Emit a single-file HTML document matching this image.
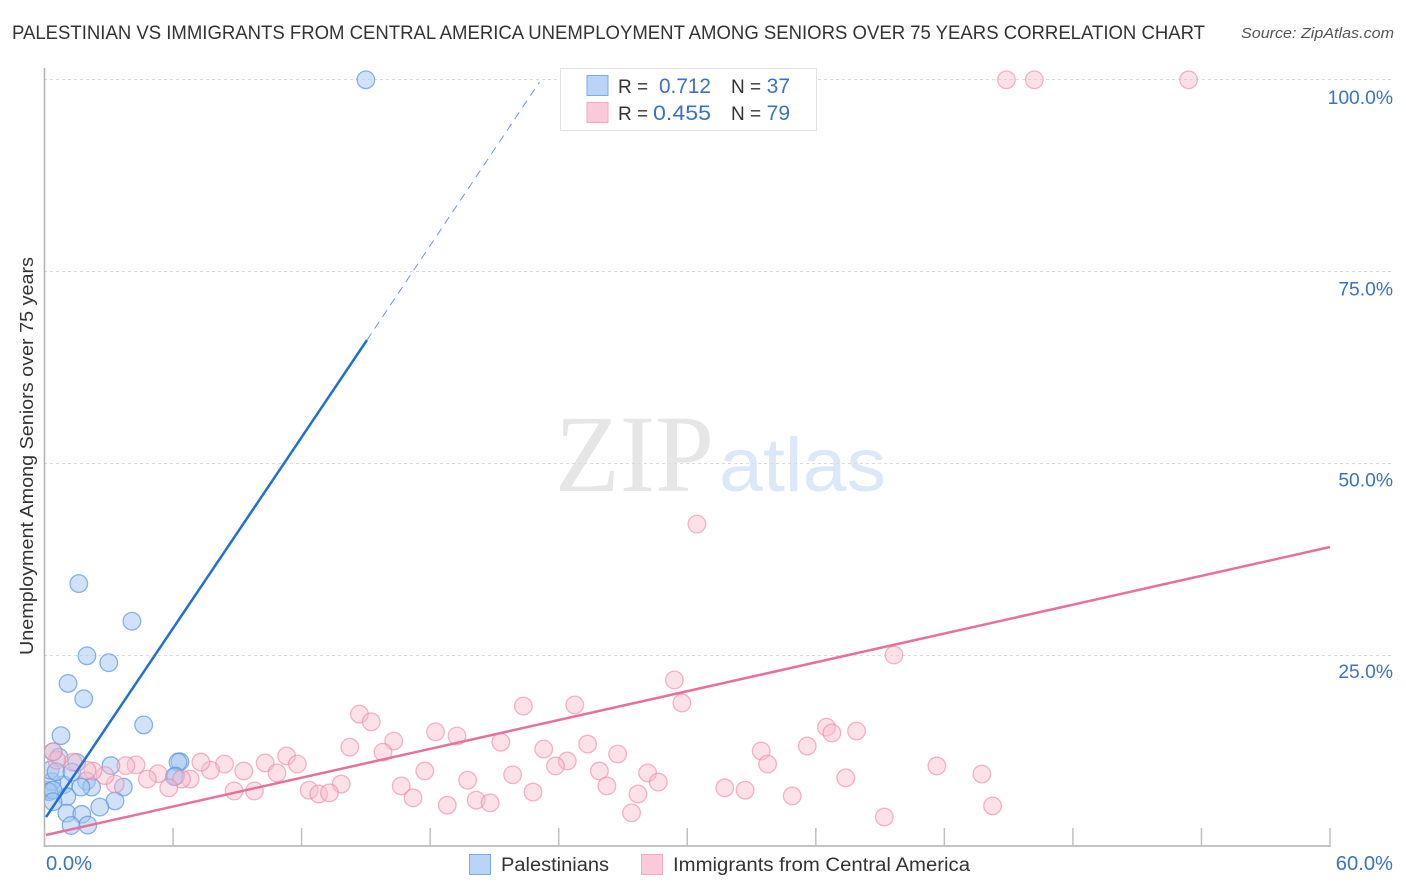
<!DOCTYPE html>
<html lang="en">
<head>
<meta charset="utf-8">
<title>Palestinian vs Immigrants from Central America Unemployment Correlation Chart</title>
<style>
html,body{margin:0;padding:0;background:#fff;width:1406px;height:892px;overflow:hidden}
svg{display:block;font-family:"Liberation Sans",sans-serif}
</style>
</head>
<body>
<svg id="chart" width="1406" height="892" viewBox="0 0 1406 892" xmlns="http://www.w3.org/2000/svg">
  <defs>
    <clipPath id="plot-clip"><rect x="45" y="60" width="1361" height="787"/></clipPath>
  </defs>
  <rect width="1406" height="892" fill="#ffffff"/>
  <text x="12" y="39" font-size="19" fill="#333333" textLength="1193" lengthAdjust="spacingAndGlyphs">PALESTINIAN VS IMMIGRANTS FROM CENTRAL AMERICA UNEMPLOYMENT AMONG SENIORS OVER 75 YEARS CORRELATION CHART</text>
  <text x="1241" y="38" font-size="15" font-style="italic" fill="#555555" textLength="153" lengthAdjust="spacingAndGlyphs">Source: ZipAtlas.com</text>
  <g>
    <text x="555" y="491" font-family="'Liberation Serif',serif" font-size="110" fill="#e6e6e6" textLength="159" lengthAdjust="spacingAndGlyphs">ZIP</text>
    <text x="719" y="491" font-size="76" fill="#dce8f8" textLength="167" lengthAdjust="spacingAndGlyphs">atlas</text>
  </g>
  <g id="grid"></g>
  <g id="axes"></g>
  <g id="points-blue" clip-path="url(#plot-clip)"></g>
  <g id="points-pink" clip-path="url(#plot-clip)"></g>
  <g id="trends"></g>
  <text transform="translate(33,456) rotate(-90)" text-anchor="middle" font-size="18.5" fill="#333333" textLength="398" lengthAdjust="spacingAndGlyphs">Unemployment Among Seniors over 75 years</text>
  <g>
    <rect x="560.5" y="68.5" width="256" height="62" fill="#ffffff" stroke="#e2e2e2" stroke-width="1"/>
    <rect x="587" y="75.5" width="21" height="20" fill="#b9d4f7" stroke="#7eaae4" stroke-width="1"/>
    <rect x="587" y="102.5" width="21" height="20" fill="#fbc9da" stroke="#f3a9c2" stroke-width="1"/>
    <text x="618" y="93" font-size="19" fill="#333333">R =</text>
    <text x="711" y="93" font-size="21" fill="#3b72c8" text-anchor="end" textLength="52" lengthAdjust="spacingAndGlyphs">0.712</text>
    <text x="731" y="93" font-size="19" fill="#333333">N =</text>
    <text x="790" y="93" font-size="21" fill="#3b72c8" text-anchor="end">37</text>
    <text x="618" y="120" font-size="19" fill="#333333">R =</text>
    <text x="711" y="120" font-size="21" fill="#3b72c8" text-anchor="end" textLength="58" lengthAdjust="spacingAndGlyphs">0.455</text>
    <text x="731" y="120" font-size="19" fill="#333333">N =</text>
    <text x="790" y="120" font-size="21" fill="#3b72c8" text-anchor="end">79</text>
  </g>
  <g>
    <rect x="469.5" y="854.5" width="21" height="20" fill="#b9d4f7" stroke="#7eaae4" stroke-width="1"/>
    <text x="501" y="871" font-size="19" fill="#333333" textLength="108" lengthAdjust="spacingAndGlyphs">Palestinians</text>
    <rect x="641.5" y="854.5" width="21" height="20" fill="#fbc9da" stroke="#f3a9c2" stroke-width="1"/>
    <text x="673" y="871" font-size="19" fill="#333333" textLength="297" lengthAdjust="spacingAndGlyphs">Immigrants from Central America</text>
  </g>
</svg>
<script>
const yTickValues = [25, 50, 75, 100];
const yTickLabels = ["25.0%", "50.0%", "75.0%", "100.0%"];
const xTickValues = [0, 6, 12, 18, 24, 30, 36, 42, 48, 54, 60];
const xEndValues = [0, 60];
const xEndLabels = ["0.0%", "60.0%"];

const blueX = [15.0,1.6,4.08,1.98,3.0,1.1,1.83,4.63,0.77,0.4,0.68,1.5,3.1,6.32,6.23,6.12,6.06,3.68,1.96,2.2,1.7,0.88,1.04,3.29,2.58,1.04,1.74,1.24,2.02,0.1,0.34,0.26,0.54,1.28,0.2,0.4,0.4];
const blueY = [99.9,34.3,29.4,24.9,24.0,21.3,19.3,15.9,14.5,12.4,11.7,11.0,10.6,11.1,11.05,9.25,9.15,7.8,8.6,7.8,7.8,8.1,6.55,6.0,5.2,4.4,4.25,2.8,2.85,7.4,8.5,10.0,9.8,9.75,7.2,7.4,5.9];

const pinkX = [44.9,46.2,53.4,30.45,39.65,29.4,29.75,24.75,22.35,14.7,15.25,36.5,36.75,37.9,18.25,19.25,21.3,16.3,14.25,15.8,23.3,25.35,26.75,24.4,23.85,33.45,35.6,33.75,41.65,43.75,37.4,28.15,25.9,21.85,17.75,19.75,13.85,16.65,26.25,28.65,27.7,22.8,20.15,20.8,17.2,18.8,31.75,32.7,34.9,27.4,39.2,44.25,12.35,12.8,13.3,11.3,11.8,10.3,10.85,9.3,9.8,8.85,8.4,7.75,7.3,6.8,6.4,5.8,5.3,4.8,4.27,3.8,3.3,2.82,2.26,1.98,1.33,0.57,0.4];
const pinkY = [99.9,99.9,99.9,42.05,25.0,21.75,18.75,18.5,18.35,17.3,16.3,15.6,14.85,15.1,15.0,14.45,13.65,13.8,13.0,12.35,12.75,13.4,12.1,11.2,10.55,12.5,13.15,10.8,10.55,9.5,9.0,9.65,9.9,9.4,9.9,8.7,8.2,7.95,7.95,8.45,6.9,7.15,6.1,5.75,6.4,5.45,7.7,7.4,6.65,4.45,3.9,5.35,7.4,6.9,7.05,11.85,10.8,10.95,9.65,9.9,7.3,7.3,10.8,10.0,11.05,8.85,8.85,7.7,9.55,8.85,10.7,10.6,8.2,9.3,9.9,10.0,11.05,11.3,12.4];

const blueTrendX = [0.07, 15.05];
const blueTrendY = [3.9, 66.0];
const blueDashX = [15.05, 23.1];
const blueDashY = [66.0, 99.6];
const pinkTrendX = [0.07, 60];
const pinkTrendY = [1.56, 39.06];

const NS = "http://www.w3.org/2000/svg";
function xScale(v) { return 44.5 + v * (1330 - 44.5) / 60; }
function yScale(v) { return 847 - v * (847 - 79) / 100; }
function yLabelPos(v) { return yScale(v) + 23 + (v - 25) * 2 / 75; }
function make(tag, attrs, parent) {
  const el = document.createElementNS(NS, tag);
  for (const k in attrs) el.setAttribute(k, attrs[k]);
  parent.appendChild(el);
  return el;
}

const grid = document.getElementById("grid");
const axes = document.getElementById("axes");

yTickValues.forEach(function (v, i) {
  const line = make("line", {x1: 44, x2: 1394, y1: yScale(v) + 0.5, y2: yScale(v) + 0.5, stroke: "#dcdcdc", "stroke-width": 1, "stroke-dasharray": "3 3"}, grid);
  
  
  const label = make("text", {x: 1393, y: yLabelPos(v), "text-anchor": "end", "font-size": 19.3, fill: "#3b72c8"}, axes);
  label.textContent = yTickLabels[i];
  
  
});

const yAxis = make("line", {x1: 44.5, x2: 44.5, y1: 68, y2: 847, stroke: "#b0b0b0", "stroke-width": 1.5}, axes);


const xAxis = make("line", {x1: 44, x2: 1331, y1: 846, y2: 846, stroke: "#b0b0b0", "stroke-width": 1.5}, axes);



xTickValues.forEach(function (v) {
  const tick = make("line", {x1: xScale(v), x2: xScale(v), y1: 828, y2: 846, stroke: "#c0c0c0", "stroke-width": 1.5}, axes);
  
  
});

xEndValues.forEach(function (v, i) {
  const label = make("text", {x: i === 0 ? xScale(v) + 1.5 : 1393, y: 870, "text-anchor": i === 0 ? "start" : "end", "font-size": 20.2, fill: "#3b72c8"}, axes);
  label.textContent = xEndLabels[i];
  
  
});

const blueGroup = document.getElementById("points-blue");
blueX.forEach(function (v, i) {
  const dot = make("circle", {cx: xScale(v), cy: yScale(blueY[i]), r: 8.8, fill: "#a3c6f2", "fill-opacity": 0.5, stroke: "#5b96de", "stroke-opacity": 0.7, "stroke-width": 1.3}, blueGroup);
  
  
});

const pinkGroup = document.getElementById("points-pink");
pinkX.forEach(function (v, i) {
  const dot = make("circle", {cx: xScale(v), cy: yScale(pinkY[i]), r: 8.8, fill: "#f8bccf", "fill-opacity": 0.45, stroke: "#ec86a6", "stroke-opacity": 0.6, "stroke-width": 1.3}, pinkGroup);
  
  
});

const trends = document.getElementById("trends");
const blueDash = make("line", {x1: xScale(blueDashX[0]), y1: yScale(blueDashY[0]), x2: xScale(blueDashX[1]), y2: yScale(blueDashY[1]), stroke: "#6f97d8", "stroke-width": 1, "stroke-dasharray": "8 6"}, trends);


const blueLine = make("line", {x1: xScale(blueTrendX[0]), y1: yScale(blueTrendY[0]), x2: xScale(blueTrendX[1]), y2: yScale(blueTrendY[1]), stroke: "#1f6fd6", "stroke-width": 2.5}, trends);


const pinkLine = make("line", {x1: xScale(pinkTrendX[0]), y1: yScale(pinkTrendY[0]), x2: xScale(pinkTrendX[1]), y2: yScale(pinkTrendY[1]), stroke: "#e8709c", "stroke-width": 2.5}, trends);


</script>
</body>
</html>
